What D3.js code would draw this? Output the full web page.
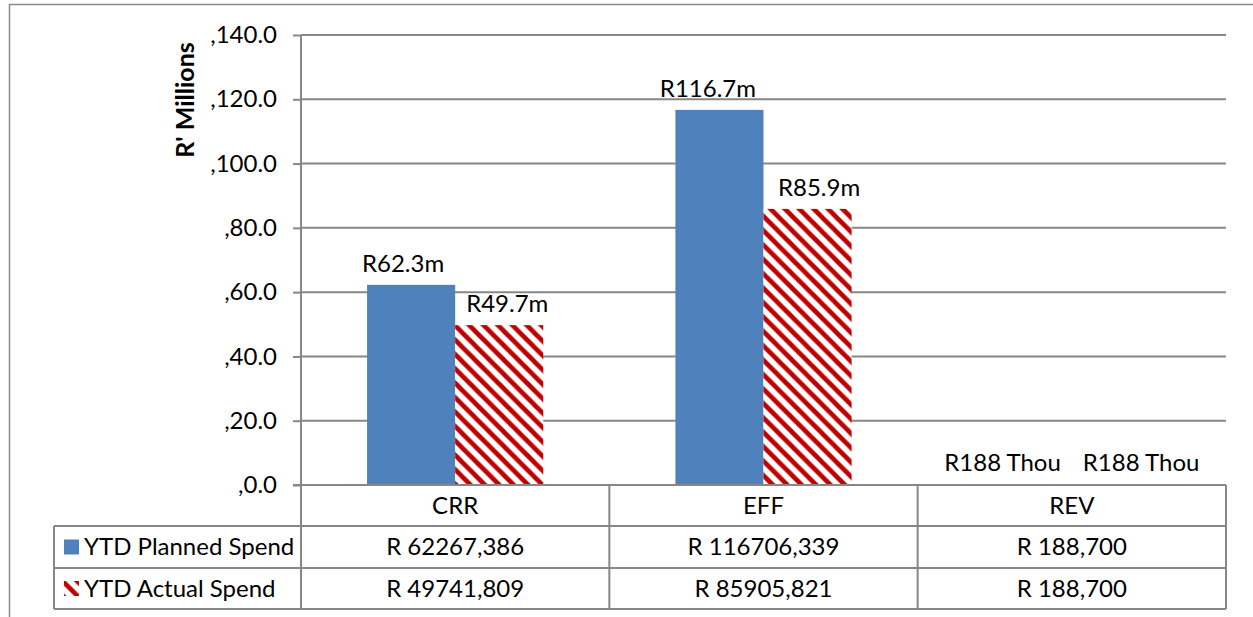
<!DOCTYPE html>
<html>
<head>
<meta charset="utf-8">
<script src="https://cdn.jsdelivr.net/npm/d3@7"></script>
<style>
  body { margin: 0; background: #fff; }
  svg { display: block; }
  text { font-family: Lato, "Open Sans", sans-serif; fill: #000; }
</style>
</head>
<body>
<svg id="chart" width="1253" height="617"></svg>
<script>
// Spend per programme, values in R thousands
const categories = ["CRR", "EFF", "REV"];
const seriesNames = ["YTD Planned Spend", "YTD Actual Spend"];
const plannedThousands = [62267.386, 116706.339, 188.700];
const actualThousands = [49741.809, 85905.821, 188.700];
const yTicks = [0, 20, 40, 60, 80, 100, 120, 140];

const series = [plannedThousands, actualThousands];
const fills = ["#4F81BD", "url(#hatch)"];

const svg = d3.select("#chart");
const FONT = 24;
const gridColor = "#878787";

// Plot frame
const plotL = 301, plotR = 1226, plotT = 35, plotB = 485;
const rowH = [41, 42, 41];   // table rows: categories, planned, actual
const legendLeft = 54;

// Diagonal hatch for actual spend
const defs = svg.append("defs");
const hp = 14.4;
const pat = defs.append("pattern")
  .attr("id", "hatch")
  .attr("patternUnits", "userSpaceOnUse")
  .attr("width", hp).attr("height", hp);
pat.append("rect").attr("width", hp).attr("height", hp).attr("fill", "#fff");
pat.append("path")
  .attr("d", `M${-hp},0L${hp},${2 * hp}M0,${-hp}L${2 * hp},${hp}M${-hp},${-hp}L${2*hp},${2*hp}`)
  .attr("stroke", "#C00000").attr("stroke-width", 4.6).attr("fill", "none");

// Outer chart border
svg.append("rect")
  .attr("x", 9.5).attr("y", 4.5).attr("width", 1300).attr("height", 700)
  .attr("fill", "none").attr("stroke", "#8a8a8a").attr("stroke-width", 1.5);

// Scales
const x = d3.scaleBand().domain(categories).range([plotL, plotR]);
const xs = d3.scaleBand().domain(d3.range(series.length))
  .range([0, x.bandwidth()]).paddingInner(0).paddingOuter(0.75);
const y = d3.scaleLinear().domain([0, 140]).range([plotB, plotT]);

// Gridlines
svg.append("g").selectAll("line").data(yTicks.filter(t => t > 0)).join("line")
  .attr("x1", plotL).attr("x2", plotR)
  .attr("y1", d => y(d)).attr("y2", d => y(d))
  .attr("stroke", gridColor).attr("stroke-width", 2);

// Y axis
const yAxis = d3.axisLeft(y).tickValues(yTicks).tickSize(8).tickPadding(16)
  .tickFormat(d => "," + d.toFixed(1));
const ya = svg.append("g").attr("transform", `translate(${plotL},0)`).call(yAxis);
ya.select(".domain").remove();
ya.attr("font-family", null).attr("font-size", null);
ya.selectAll(".tick line").attr("stroke", gridColor).attr("stroke-width", 2);
ya.selectAll(".tick text").attr("font-size", FONT).attr("fill", "#000");

// Y axis title
svg.append("text")
  .attr("transform", "translate(194,100) rotate(-90)")
  .attr("text-anchor", "middle")
  .attr("font-size", 25).attr("font-weight", "bold")
  .text("R' Millions");

// Bars
const barG = svg.append("g");
series.forEach((vals, si) => {
  barG.append("g").selectAll("rect").data(vals).join("rect")
    .attr("x", (d, i) => x(categories[i]) + xs(si))
    .attr("width", xs.bandwidth())
    .attr("y", d => y(d / 1000))
    .attr("height", d => y(0) - y(d / 1000))
    .attr("fill", fills[si]);
});

// Value labels
const barLabel = v => v >= 1000 ? "R" + (v / 1000).toFixed(1) + "m" : "R" + Math.floor(v) + " Thou";
const labelG = svg.append("g").attr("font-size", FONT).attr("text-anchor", "middle");
categories.forEach((c, i) => {
  const items = series.map((vals, si) => {
    const t = labelG.append("text")
      .attr("y", y(vals[i] / 1000) - 13)
      .text(barLabel(vals[i]));
    return { t, cx: x(c) + xs(si) + xs.bandwidth() / 2, w: t.node().getComputedTextLength() };
  });
  // push apart labels that would collide
  const gap = 22;
  const overlap = (items[0].cx + items[0].w / 2 + gap) - (items[1].cx - items[1].w / 2);
  if (overlap > 0) { items[0].cx -= overlap / 2; items[1].cx += overlap / 2; }
  items.forEach(it => it.t.attr("x", it.cx));
});

// Data table below the axis
const rowY = [plotB, plotB + rowH[0], plotB + rowH[0] + rowH[1], plotB + rowH[0] + rowH[1] + rowH[2]];
const tg = svg.append("g").attr("stroke", gridColor).attr("stroke-width", 2);
// horizontal lines
tg.append("line").attr("x1", plotL - 8).attr("x2", plotR).attr("y1", rowY[0]).attr("y2", rowY[0]);
[1, 2, 3].forEach(k => tg.append("line").attr("x1", legendLeft).attr("x2", plotR).attr("y1", rowY[k]).attr("y2", rowY[k]));
// vertical lines
tg.append("line").attr("x1", plotL).attr("x2", plotL).attr("y1", plotT).attr("y2", rowY[3]);
categories.forEach(c => {
  const xr = x(c) + x.bandwidth();
  tg.append("line").attr("x1", xr).attr("x2", xr).attr("y1", rowY[0]).attr("y2", rowY[3]);
});
tg.append("line").attr("x1", legendLeft).attr("x2", legendLeft).attr("y1", rowY[1]).attr("y2", rowY[3]);

const tableText = svg.append("g").attr("font-size", FONT).attr("text-anchor", "middle");
tableText.selectAll("text.cat").data(categories).join("text")
  .attr("x", d => x(d) + x.bandwidth() / 2)
  .attr("y", (rowY[0] + rowY[1]) / 2).attr("dy", "0.35em")
  .text(d => d);

const tableValue = v => "R " + Math.floor(v) + "," + String(Math.round((v % 1) * 1000)).padStart(3, "0");
series.forEach((vals, si) => {
  tableText.append("g").selectAll("text").data(vals).join("text")
    .attr("x", (d, i) => x(categories[i]) + x.bandwidth() / 2)
    .attr("y", (rowY[si + 1] + rowY[si + 2]) / 2).attr("dy", "0.35em")
    .text(d => tableValue(d));
});

// Legend keys inside the table
seriesNames.forEach((name, si) => {
  const cy = (rowY[si + 1] + rowY[si + 2]) / 2;
  svg.append("rect").attr("x", 64).attr("y", cy - 7.5).attr("width", 15).attr("height", 15)
    .attr("fill", fills[si]);
  svg.append("text").attr("x", 84).attr("y", cy).attr("dy", "0.35em")
    .attr("font-size", FONT).text(name);
});
</script>
</body>
</html>
